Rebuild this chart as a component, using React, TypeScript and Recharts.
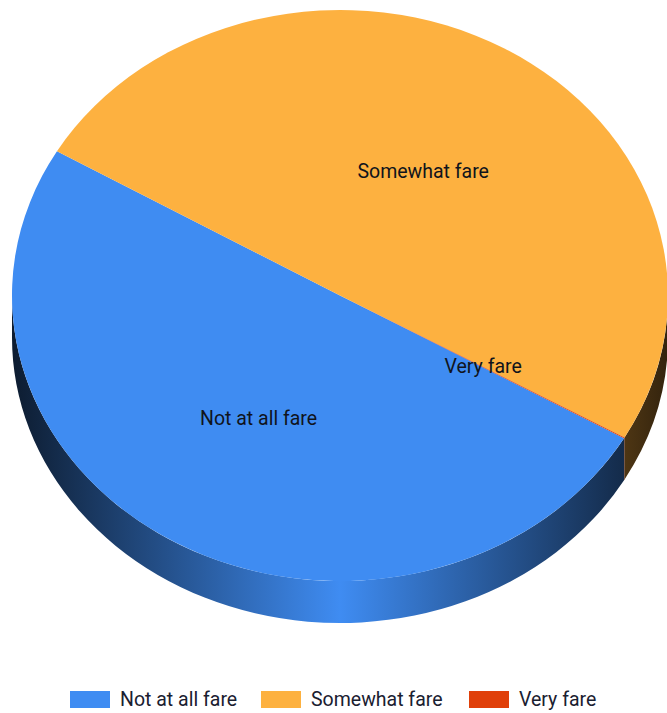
import { PieChart, Pie, Legend } from 'recharts';

const categories = ['Not at all fare', 'Somewhat fare', 'Very fare'];
const shares = [50.1, 49.85, 0.05];
const colors = ['#3F8CF2', '#FDB140', '#E0400A'];

const data = categories.map((name, i) => ({ name, value: shares[i], fill: colors[i] }));

const CX = 340;
const CY = 295.5;
const RX = 328;
const RY = 285.5;
const DEPTH = 42;
const FONT = 'Roboto, sans-serif';

const shade = (hex: string, f: number) => {
  const n = parseInt(hex.slice(1), 16);
  const c = [(n >> 16) & 255, (n >> 8) & 255, n & 255].map((v) => Math.round(v * f));
  return `rgb(${c[0]},${c[1]},${c[2]})`;
};

const pt = (cx: number, cy: number, rx: number, ry: number, deg: number) => {
  const a = (deg * Math.PI) / 180;
  return [cx + rx * Math.cos(a), cy - ry * Math.sin(a)];
};

// pie slice squashed to an ellipse, with its part of the front wall under it
function Slice(props: any) {
  const { cx, cy, outerRadius, startAngle, endAngle, fill, index } = props;
  const rx = outerRadius;
  const ry = (outerRadius * RY) / RX;
  const hi = Math.max(startAngle, endAngle);
  const lo = Math.min(startAngle, endAngle);
  const [x0, y0] = pt(cx, cy, rx, ry, hi);
  const [x1, y1] = pt(cx, cy, rx, ry, lo);
  const large = hi - lo > 180 ? 1 : 0;

  const walls: string[] = [];
  [-360, 0, 360].forEach((k) => {
    const top = Math.min(hi + k, 0);
    const bottom = Math.max(lo + k, -180);
    if (top <= bottom) return;
    const [a, b] = pt(cx, cy, rx, ry, top);
    const [c, d] = pt(cx, cy, rx, ry, bottom);
    walls.push(
      `M${a},${b}A${rx},${ry} 0 0 1 ${c},${d}L${c},${d + DEPTH}A${rx},${ry} 0 0 0 ${a},${b + DEPTH}Z`
    );
  });

  const gid = `wall-${index}`;
  return (
    <g>
      <defs>
        <linearGradient id={gid} gradientUnits="userSpaceOnUse" x1={cx - rx} x2={cx + rx} y1={0} y2={0}>
          <stop offset="0" stopColor={shade(fill, 0.2)} />
          <stop offset="0.5" stopColor={fill} />
          <stop offset="1" stopColor={shade(fill, 0.2)} />
        </linearGradient>
      </defs>
      {walls.map((d) => (
        <path key={d} d={d} fill={`url(#${gid})`} />
      ))}
      <path d={`M${cx},${cy}L${x0},${y0}A${rx},${ry} 0 ${large} 1 ${x1},${y1}Z`} fill={fill} />
    </g>
  );
}

function SliceLabel(props: any) {
  const { cx, cy, outerRadius, midAngle, name } = props;
  const [x, y] = pt(cx, cy, outerRadius * 0.5, ((outerRadius * RY) / RX) * 0.5, midAngle);
  return (
    <text x={x + 1} y={y - 0.5} textAnchor="middle" dominantBaseline="central" fontFamily={FONT} fontSize={19.5} fill="#10141c">
      {name}
    </text>
  );
}

const legendLefts = [70, 261, 469];

function ChartLegend({ payload }: any) {
  return (
    <div style={{ position: 'relative', height: 20, fontFamily: FONT, fontSize: 19.5, color: '#1a2030' }}>
      {(payload || []).map((p: any, i: number) => (
        <div key={p.value} style={{ position: 'absolute', left: legendLefts[i], top: 0, display: 'flex', alignItems: 'center', whiteSpace: 'nowrap' }}>
          <span style={{ width: 40, height: 17, marginRight: 10, background: p.color, display: 'inline-block' }} />
          {p.value}
        </div>
      ))}
    </div>
  );
}

export default function App() {
  return (
    <div style={{ position: 'absolute', left: 0, top: 0, width: 667, height: 713, background: '#fff', overflow: 'hidden' }}>
      <PieChart width={667} height={713} margin={{ top: 0, right: 0, bottom: 0, left: 0 }}>
        <Pie
          data={data}
          dataKey="value"
          nameKey="name"
          cx={CX}
          cy={CY}
          outerRadius={RX}
          startAngle={-30}
          endAngle={-390}
          stroke="none"
          shape={Slice}
          label={SliceLabel}
          labelLine={false}
          isAnimationActive={false}
        />
        <Legend content={ChartLegend} wrapperStyle={{ position: 'absolute', left: 0, top: 688, width: 667 }} />
      </PieChart>
    </div>
  );
}
